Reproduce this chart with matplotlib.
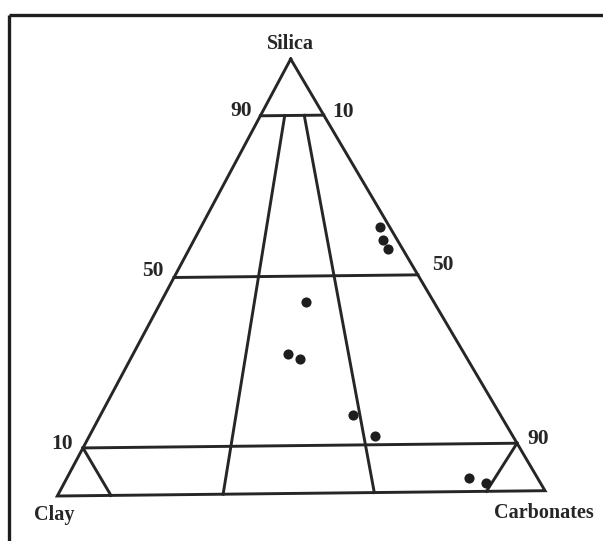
import matplotlib.pyplot as plt
import numpy as np

# Amostras (percentagens): silica, argila, carbonatos
silica = [61, 58, 56, 44, 32, 31, 18, 13, 3, 2]
clay = [2, 3, 3, 26, 36, 34, 30, 28, 14, 11]
carbonates = [37, 39, 41, 30, 32, 35, 52, 59, 83, 87]

# Linhas da grelha do diagrama (inicio e fim em percentagens)
grid_lines = [
    [(87, 13, 0), (87, 0, 13)],
    [(50, 50, 0), (50, 0, 50)],
    [(11, 89, 0), (11, 0, 89)],
    [(87, 8, 5), (0, 66, 34)],
    [(87, 4, 9), (0, 35, 65)],
    [(11, 89, 0), (0, 89, 11)],
    [(11, 0, 89), (0, 12, 88)],
]

# Vertices do triangulo no desenho (silica, argila, carbonatos)
vertice_silica = np.array([290.7, 59.0])
vertice_clay = np.array([57.3, 496.0])
vertice_carb = np.array([545.0, 490.7])


def ternario_xy(s, cl, cb):
    total = s + cl + cb
    p = (s * vertice_silica + cl * vertice_clay + cb * vertice_carb) / total
    return p[0], p[1]


cor = "#262626"
fonte = "Liberation Serif"

fig = plt.figure(figsize=(6.03, 5.41), dpi=100)
ax = fig.add_axes([0, 0, 1, 1])
ax.set_xlim(0, 603)
ax.set_ylim(541, 0)
ax.axis("off")

# Moldura (so topo e lado esquerdo visiveis)
ax.plot([9, 603], [15, 15], color="#1e1e1e", lw=2.4, solid_capstyle="butt")
ax.plot([9, 9], [15, 541], color="#1e1e1e", lw=2.4, solid_capstyle="butt")

# Triangulo
tri = [vertice_silica, vertice_clay, vertice_carb, vertice_silica]
ax.plot([v[0] for v in tri], [v[1] for v in tri], color=cor, lw=2.1,
        solid_joinstyle="miter")

for ini, fim in grid_lines:
    x0, y0 = ternario_xy(*ini)
    x1, y1 = ternario_xy(*fim)
    ax.plot([x0, x1], [y0, y1], color=cor, lw=2.1)

# Pontos
xs, ys = [], []
for s, cl, cb in zip(silica, clay, carbonates):
    x, y = ternario_xy(s, cl, cb)
    xs.append(x)
    ys.append(y)
ax.plot(xs, ys, "o", color="#1e1e1e", ms=7.3, mec="none")

# Rotulos
kw = dict(family=fonte, fontweight="bold", color=cor, ha="center", va="center")
ax.text(290, 44, "Silica", fontsize=14.5, **kw)
ax.text(54, 515, "Clay", fontsize=14.5, **kw)
ax.text(544, 513, "Carbonates", fontsize=14.5, **kw)

ax.text(241, 111, "90", fontsize=15.5, **kw)
ax.text(343, 112, "10", fontsize=15.5, **kw)
ax.text(153, 271, "50", fontsize=15.5, **kw)
ax.text(443, 265, "50", fontsize=15.5, **kw)
ax.text(62, 444, "10", fontsize=15.5, **kw)
ax.text(538, 439, "90", fontsize=15.5, **kw)

fig.savefig("out.png", dpi=100)
